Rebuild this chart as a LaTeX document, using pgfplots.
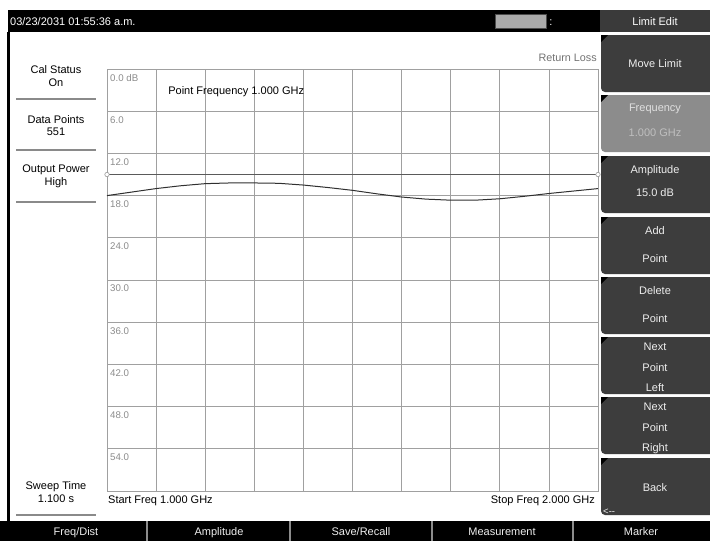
\documentclass[border=0pt]{standalone}
\usepackage{pgfplots}
\pgfplotsset{compat=1.18}
\usepackage{fontspec}
\setmainfont{Liberation Sans}
\definecolor{btn}{HTML}{3D3D3D}
\definecolor{btnhi}{HTML}{8C8C8C}
\definecolor{hdr}{HTML}{3A3A3A}
\definecolor{btntext}{HTML}{EEEEEE}
\definecolor{gridc}{HTML}{A0A0A0}
\definecolor{tickc}{HTML}{8C8C8C}
\definecolor{sepc}{HTML}{8A8A8A}
\definecolor{tracec}{HTML}{303030}
\definecolor{limc}{HTML}{5A5A5A}
\newcommand{\fs}{\fontsize{11}{13}\selectfont}
\newcommand{\fsm}{\fontsize{9.7}{11}\selectfont}
\begin{document}
\begin{tikzpicture}
\path[use as bounding box, fill=white] (0pt,0pt) rectangle (710pt,-541pt);
\begin{scope}[x=1pt,y=-1pt, t/.style={anchor=base, font=\fs, inner sep=0pt}]
 % top bar
 \fill[black] (8,10) rectangle (600,32);
 \node[t, anchor=base west, text=white] at (10,25) {03/23/2031 01:55:36 a.m.};
 \filldraw[fill=black!33, draw=black!70, line width=1pt] (495,14) rectangle (546,28);
 \node[t, text=white] at (551,25) {:};
 \fill[hdr] (600,10) rectangle (710,32);
 \node[t, text=white] at (655,25) {Limit Edit};
 % left border
 \fill[black] (7,32) rectangle (10,521);
 % bottom bar
 \fill[black] (0,521) rectangle (710,541);
 \foreach \sx in {147,290,432,573} {\fill[black!45] (\sx-1,521) rectangle (\sx+1,541);}
 \node[t, text=btntext] at (76,535) {Freq/Dist};
 \node[t, text=btntext] at (219,535) {Amplitude};
 \node[t, text=btntext] at (361,535) {Save/Recall};
 \node[t, text=btntext] at (502,535) {Measurement};
 \node[t, text=btntext] at (641,535) {Marker};
 % left panel
 \node[t] at (56,73) {Cal Status};
 \node[t] at (56,86) {On};
 \draw[sepc, line width=2pt] (16,99) -- (96,99);
 \node[t] at (56,123) {Data Points};
 \node[t] at (56,135) {551};
 \draw[sepc, line width=2pt] (16,150) -- (96,150);
 \node[t] at (56,172) {Output Power};
 \node[t] at (56,185) {High};
 \draw[sepc, line width=2pt] (16,202) -- (96,202);
 \node[t] at (56,489) {Sweep Time};
 \node[t] at (56,502) {1.100 s};
 \draw[sepc, line width=2pt] (16,515) -- (96,515);
 % texts around plot
 \node[t, anchor=base east, text=black!55, font=\fontsize{10.8}{12}\selectfont] at (597,61) {Return Loss};
 \node[t, anchor=base west] at (108,503) {Start Freq 1.000 GHz};
 \node[t, anchor=base east] at (595,503) {Stop Freq 2.000 GHz};
 % soft keys
 \foreach \T/\c in {35/btn,95/btnhi,156/btn,217/btn,277/btn,337/btn,397/btn,458/btn} {
   \fill[\c, rounded corners=4pt] (601,\T) rectangle (714,\T+57);
   \fill[black] (601,\T) -- (608,\T) -- (601,\T+7) -- cycle;
 }
 \node[t, text=btntext] at (655,67.5) {Move Limit};
 \node[t, text=black!12] at (655,111) {Frequency};
 \node[t, text=black!25] at (655,136) {1.000 GHz};
 \node[t, text=btntext] at (655,173) {Amplitude};
 \node[t, text=btntext] at (655,196) {15.0 dB};
 \node[t, text=btntext] at (655,234) {Add};
 \node[t, text=btntext] at (655,262) {Point};
 \node[t, text=btntext] at (655,294) {Delete};
 \node[t, text=btntext] at (655,322) {Point};
 \node[t, text=btntext] at (655,350) {Next};
 \node[t, text=btntext] at (655,371) {Point};
 \node[t, text=btntext] at (655,391) {Left};
 \node[t, text=btntext] at (655,410) {Next};
 \node[t, text=btntext] at (655,431) {Point};
 \node[t, text=btntext] at (655,451) {Right};
 \node[t, text=btntext] at (655,491) {Back};
 \node[t, anchor=base west, text=btntext, font=\fontsize{9.5}{10}\selectfont] at (603,514) {<{-}{-}};
\end{scope}
\begin{axis}[
  at={(107pt,-491pt)}, anchor=south west, scale only axis,
  width=491pt, height=422pt,
  xmin=1, xmax=2, ymin=0, ymax=60, y dir=reverse,
  xtick={1.1,1.2,1.3,1.4,1.5,1.6,1.7,1.8,1.9}, xticklabels={},
  ytick={0,6,12,18,24,30,36,42,48,54},
  yticklabels={0.0 dB,6.0,12.0,18.0,24.0,30.0,36.0,42.0,48.0,54.0},
  yticklabel style={anchor=north west, font=\fsm, text=tickc, yshift=-2pt, inner sep=3pt},
  major tick length=0pt,
  grid=major, grid style={draw=gridc, line width=0.8pt},
  axis line style={draw=gridc, line width=1pt},
  clip=false,
]
\addplot[draw=limc, line width=1.1pt, mark=*, mark size=2.2pt, mark options={fill=white, draw=black!40, line width=0.6pt}] coordinates {(1,15) (2,15)};
\addplot[draw=tracec, line width=1pt, mark=none] coordinates {
(1.00,18.0) (1.05,17.5) (1.10,17.0) (1.15,16.6) (1.20,16.3) (1.25,16.2)
(1.30,16.2) (1.35,16.25) (1.40,16.5) (1.45,16.85) (1.50,17.25) (1.55,17.75)
(1.60,18.2) (1.65,18.5) (1.70,18.65) (1.75,18.65) (1.80,18.45) (1.85,18.1)
(1.90,17.7) (1.95,17.35) (2.00,17.0)};
\node[anchor=base west, inner sep=0pt, font=\fs] at (axis cs:1.1245,3.67) {Point Frequency 1.000 GHz};
\end{axis}
\end{tikzpicture}
\end{document}
